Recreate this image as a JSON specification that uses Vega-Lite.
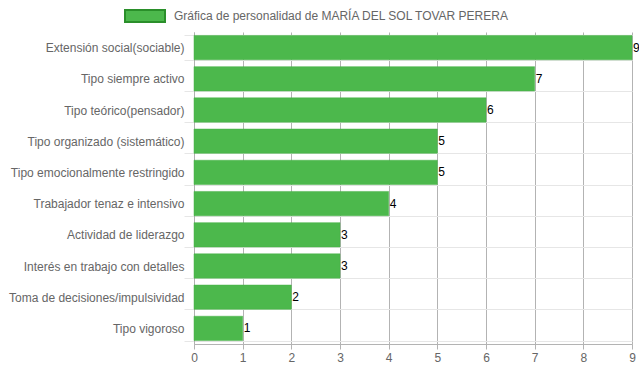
{
  "$schema": "https://vega.github.io/schema/vega-lite/v6.json",
  "width": 438,
  "height": 312,
  "autosize": {"type": "none"},
  "padding": {"left": 194, "top": 32, "right": 7, "bottom": 28},
  "background": "white",
  "config": {
    "font": "Liberation Sans",
    "view": {"stroke": null},
    "axis": {"labelFont": "Liberation Sans", "labelFontSize": 12, "labelColor": "#666666", "titleFontSize": 12}
  },
  "data": {
    "values": [
      {"categoria": "Extensión social(sociable)", "valor": 9, "serie": "Gráfica de personalidad de MARÍA DEL SOL TOVAR PERERA"},
      {"categoria": "Tipo siempre activo", "valor": 7, "serie": "Gráfica de personalidad de MARÍA DEL SOL TOVAR PERERA"},
      {"categoria": "Tipo teórico(pensador)", "valor": 6, "serie": "Gráfica de personalidad de MARÍA DEL SOL TOVAR PERERA"},
      {"categoria": "Tipo organizado (sistemático)", "valor": 5, "serie": "Gráfica de personalidad de MARÍA DEL SOL TOVAR PERERA"},
      {"categoria": "Tipo emocionalmente restringido", "valor": 5, "serie": "Gráfica de personalidad de MARÍA DEL SOL TOVAR PERERA"},
      {"categoria": "Trabajador tenaz e intensivo", "valor": 4, "serie": "Gráfica de personalidad de MARÍA DEL SOL TOVAR PERERA"},
      {"categoria": "Actividad de liderazgo", "valor": 3, "serie": "Gráfica de personalidad de MARÍA DEL SOL TOVAR PERERA"},
      {"categoria": "Interés en trabajo con detalles", "valor": 3, "serie": "Gráfica de personalidad de MARÍA DEL SOL TOVAR PERERA"},
      {"categoria": "Toma de decisiones/impulsividad", "valor": 2, "serie": "Gráfica de personalidad de MARÍA DEL SOL TOVAR PERERA"},
      {"categoria": "Tipo vigoroso", "valor": 1, "serie": "Gráfica de personalidad de MARÍA DEL SOL TOVAR PERERA"}
    ]
  },
  "encoding": {
    "y": {
      "field": "categoria",
      "type": "nominal",
      "sort": null,
      "title": null,
      "scale": {"paddingInner": 0.22, "paddingOuter": 0.11},
      "axis": {
        "tickBand": "extent",
        "grid": true,
        "gridColor": "#e6e6e6",
        "tickColor": "#e6e6e6",
        "tickSize": 10,
        "labelPadding": 0,
        "domainColor": "#b0b0b0",
        "labelLimit": 200
      }
    },
    "x": {
      "field": "valor",
      "type": "quantitative",
      "title": null,
      "scale": {"domain": [0, 9], "nice": false},
      "axis": {
        "values": [0, 1, 2, 3, 4, 5, 6, 7, 8, 9],
        "grid": true,
        "gridColor": "#b3b3b3",
        "tickColor": "#b3b3b3",
        "tickSize": 5,
        "labelPadding": 3,
        "labelFlush": false,
        "domainColor": "#b3b3b3",
        "format": "d"
      }
    }
  },
  "layer": [
    {
      "mark": {"type": "bar", "color": "#4cb84c", "stroke": "#46b046", "strokeWidth": 0.5},
      "encoding": {
        "color": {
          "field": "serie",
          "type": "nominal",
          "scale": {"range": ["#4cb84c"]},
          "legend": {
            "title": null,
            "orient": "none",
            "legendX": -70,
            "legendY": -37,
            "symbolType": "M-1,-0.3H1V0.3H-1Z",
            "symbolSize": 1600,
            "symbolStrokeColor": "#2a8f2a",
            "symbolStrokeWidth": 2,
            "symbolFillColor": "#4cb84c",
            "labelFontSize": 12,
            "labelColor": "#666666",
            "labelFont": "Liberation Sans",
            "labelLimit": 500,
            "labelOffset": 8
          }
        }
      }
    },
    {
      "mark": {"type": "text", "align": "left", "baseline": "middle", "dx": 1, "fontSize": 12, "color": "#000000", "font": "Liberation Sans"},
      "encoding": {"text": {"field": "valor", "type": "quantitative"}}
    }
  ]
}
